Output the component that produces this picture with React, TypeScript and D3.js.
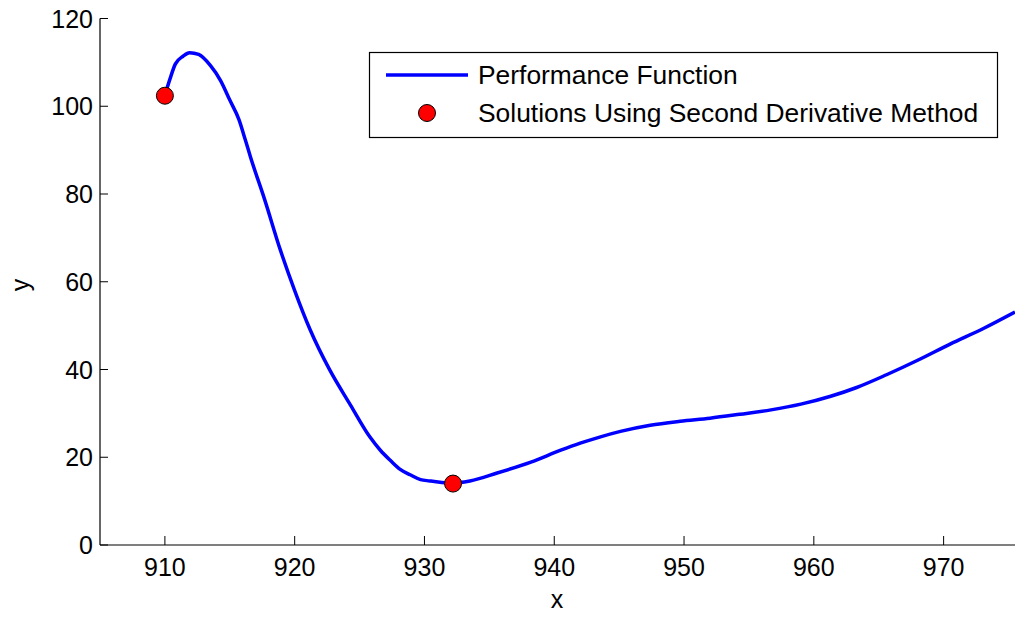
import React from "react";
import * as d3 from "d3";

const curveX = [910.0, 910.4, 910.8, 911.4, 911.9, 912.6, 913.5, 914.3, 915.0, 915.7, 916.2, 916.6, 917.7, 918.9, 920.0, 921.2, 922.7, 924.3, 925.8, 926.6, 927.4, 928.1, 928.9, 929.7, 930.4, 931.2, 932.1, 933.5, 935.6, 938.2, 940.5, 942.0, 943.5, 945.1, 947.4, 949.7, 952.0, 954.3, 956.7, 959.0, 961.3, 963.3, 965.6, 968.0, 970.5, 973.1, 975.5];
const curveY = [102.5, 106.3, 109.6, 111.4, 112.2, 111.8, 109.3, 105.8, 101.4, 97.0, 92.3, 88.4, 78.6, 67.2, 58.0, 49.0, 39.9, 31.9, 24.6, 21.6, 19.2, 17.3, 16.0, 14.9, 14.6, 14.3, 14.1, 14.6, 16.4, 18.9, 21.6, 23.2, 24.6, 25.9, 27.3, 28.2, 28.9, 29.8, 30.8, 32.1, 33.9, 35.9, 38.8, 42.1, 45.8, 49.4, 53.1];

const solutionX = [910.0, 932.2];
const solutionY = [102.4, 14.0];

const xTicks = [910, 920, 930, 940, 950, 960, 970];
const yTicks = [0, 20, 40, 60, 80, 100, 120];

const seriesNames = ["Performance Function", "Solutions Using Second Derivative Method"];

const W = 1015;
const H = 617;
const FONT = "'Liberation Sans', Arial, Helvetica, sans-serif";

export default function App() {
  const x = d3.scaleLinear().domain([905, 975.5]).range([100, 1015]);
  const y = d3.scaleLinear().domain([0, 120]).range([545, 18.5]);

  const pts: [number, number][] = curveX.map((v, i) => [v, curveY[i]]);
  const line = d3
    .line<[number, number]>()
    .x((d) => x(d[0]))
    .y((d) => y(d[1]))
    .curve(d3.curveMonotoneX);

  return (
    <svg
      width={W}
      height={H}
      style={{ position: "absolute", left: 0, top: 0, background: "#fff" }}
      fontFamily={FONT}
    >
      <rect x={0} y={0} width={W} height={H} fill="#fff" />
      <defs>
        <clipPath id="plotclip">
          <rect x={100} y={0} width={W - 100} height={546} />
        </clipPath>
      </defs>

      {/* axes */}
      <line x1={100} y1={y(120)} x2={100} y2={545} stroke="#000" strokeWidth={1.2} />
      <line x1={100} y1={545} x2={W} y2={545} stroke="#000" strokeWidth={1.2} />

      {yTicks.map((t) => (
        <g key={"y" + t}>
          <line x1={100} x2={108} y1={y(t)} y2={y(t)} stroke="#000" strokeWidth={1} />
          <text x={93} y={y(t)} dy="0.36em" textAnchor="end" fontSize={25} fill="#000">
            {t}
          </text>
        </g>
      ))}
      {xTicks.map((t) => (
        <g key={"x" + t}>
          <line x1={x(t)} x2={x(t)} y1={545} y2={536} stroke="#000" strokeWidth={1} />
          <text x={x(t)} y={576} textAnchor="middle" fontSize={25} fill="#000">
            {t}
          </text>
        </g>
      ))}

      <text x={557} y={608} textAnchor="middle" fontSize={25} fill="#000">
        x
      </text>
      <text
        transform="translate(29,285) rotate(-90)"
        textAnchor="middle"
        fontSize={25}
        fill="#000"
      >
        y
      </text>

      {/* curve */}
      <g clipPath="url(#plotclip)">
        <path d={line(pts) || ""} fill="none" stroke="#0000ff" strokeWidth={3.5} strokeLinejoin="round" />
        {solutionX.map((v, i) => (
          <circle key={i} cx={x(v)} cy={y(solutionY[i])} r={8.5} fill="#ff0000" stroke="#000" strokeWidth={1} />
        ))}
      </g>

      {/* legend */}
      <rect x={369.5} y={52.5} width={628} height={85} fill="#fff" stroke="#000" strokeWidth={1.2} />
      <line x1={386} x2={468} y1={75} y2={75} stroke="#0000ff" strokeWidth={3.5} />
      <text x={478} y={84} fontSize={26.4} fill="#000">
        {seriesNames[0]}
      </text>
      <circle cx={427} cy={113} r={8.5} fill="#ff0000" stroke="#000" strokeWidth={1} />
      <text x={478} y={122} fontSize={26.4} fill="#000">
        {seriesNames[1]}
      </text>
    </svg>
  );
}
